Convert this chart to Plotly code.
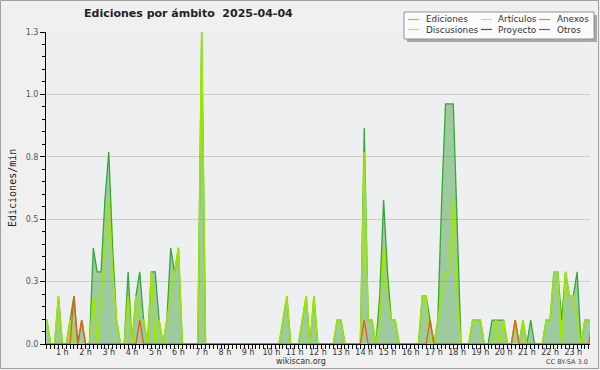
import plotly.graph_objects as go

# 10-minute bins over the day (hours)
bin_hours = [k / 6 for k in range(144)]

# Edit rates (edits/min), one value per 10-minute bin
ediciones = [
    0.096, 0.096, 0.096, 0.0, 0.0, 0.192,
    0.0, 0.0, 0.096, 0.192, 0.0, 0.096,
    0.0, 0.0, 0.385, 0.289, 0.289, 0.577,
    0.769, 0.385, 0.096, 0.0, 0.0, 0.289,
    0.0, 0.192, 0.289, 0.096, 0.0, 0.289,
    0.289, 0.096, 0.0, 0.096, 0.385, 0.289,
    0.385, 0.0, 0.0, 0.0, 0.0, 0.0,
    1.25, 0.0, 0.0, 0.0, 0.0, 0.0,
    0.0, 0.0, 0.0, 0.0, 0.0, 0.0,
    0.0, 0.0, 0.0, 0.0, 0.0, 0.0,
    0.0, 0.0, 0.0, 0.096, 0.192, 0.0,
    0.0, 0.0, 0.096, 0.192, 0.0, 0.192,
    0.0, 0.0, 0.0, 0.0, 0.0, 0.096,
    0.096, 0.0, 0.0, 0.0, 0.0, 0.0,
    0.865, 0.096, 0.096, 0.0, 0.192, 0.577,
    0.289, 0.096, 0.096, 0.0, 0.0, 0.0,
    0.0, 0.0, 0.0, 0.192, 0.192, 0.096,
    0.0, 0.096, 0.577, 0.962, 0.962, 0.962,
    0.481, 0.0, 0.0, 0.0, 0.096, 0.096,
    0.096, 0.0, 0.0, 0.096, 0.096, 0.096,
    0.096, 0.0, 0.0, 0.096, 0.0, 0.096,
    0.0, 0.096, 0.0, 0.0, 0.0, 0.096,
    0.096, 0.289, 0.289, 0.096, 0.289, 0.192,
    0.192, 0.289, 0.0, 0.096, 0.096, 0.096,
]

articulos = [
    0.096, 0.096, 0.096, 0.0, 0.0, 0.192,
    0.0, 0.0, 0.096, 0.0, 0.0, 0.0,
    0.0, 0.0, 0.192, 0.0, 0.192, 0.385,
    0.577, 0.289, 0.096, 0.0, 0.0, 0.192,
    0.0, 0.192, 0.096, 0.096, 0.0, 0.289,
    0.0, 0.096, 0.0, 0.096, 0.192, 0.289,
    0.385, 0.0, 0.0, 0.0, 0.0, 0.0,
    1.25, 0.0, 0.0, 0.0, 0.0, 0.0,
    0.0, 0.0, 0.0, 0.0, 0.0, 0.0,
    0.0, 0.0, 0.0, 0.0, 0.0, 0.0,
    0.0, 0.0, 0.0, 0.096, 0.192, 0.0,
    0.0, 0.0, 0.096, 0.192, 0.0, 0.192,
    0.0, 0.0, 0.0, 0.0, 0.0, 0.096,
    0.096, 0.0, 0.0, 0.0, 0.0, 0.0,
    0.769, 0.096, 0.096, 0.0, 0.096, 0.385,
    0.192, 0.096, 0.096, 0.0, 0.0, 0.0,
    0.0, 0.0, 0.0, 0.192, 0.192, 0.0,
    0.0, 0.096, 0.192, 0.289, 0.289, 0.577,
    0.192, 0.0, 0.0, 0.0, 0.096, 0.096,
    0.096, 0.0, 0.0, 0.0, 0.096, 0.0,
    0.096, 0.0, 0.0, 0.096, 0.0, 0.096,
    0.0, 0.0, 0.0, 0.0, 0.0, 0.096,
    0.096, 0.289, 0.289, 0.0, 0.289, 0.192,
    0.192, 0.096, 0.0, 0.096, 0.096, 0.096,
]

anexos = [
    0.0, 0.0, 0.0, 0.0, 0.0, 0.0,
    0.0, 0.0, 0.0, 0.192, 0.0, 0.096,
    0.0, 0.0, 0.0, 0.0, 0.0, 0.0,
    0.0, 0.0, 0.0, 0.0, 0.0, 0.0,
    0.0, 0.0, 0.096, 0.0, 0.0, 0.0,
] + [0.0] * 54 + [
    0.096, 0.0, 0.0, 0.0, 0.0, 0.0,
    0.0, 0.0, 0.0, 0.0, 0.0, 0.0,
    0.0, 0.0, 0.0, 0.0, 0.0, 0.096,
    0.0, 0.0, 0.0, 0.0, 0.0, 0.0,
    0.0, 0.0, 0.0, 0.0, 0.0, 0.0,
    0.0, 0.0, 0.0, 0.0, 0.0, 0.0,
    0.0, 0.0, 0.0, 0.096, 0.0, 0.0,
    0.0, 0.0, 0.0, 0.0, 0.0, 0.0,
    0.0, 0.0, 0.0, 0.0, 0.0, 0.0,
    0.0, 0.0, 0.0, 0.0, 0.0, 0.096,
]

legend_names = ["Ediciones", "Artículos", "Anexos", "Discusiones", "Proyecto", "Otros"]
legend_colors = ["#7ccf7c", "#c8ec50", "#f08050", "#f0d040", "#505050", "#8040f0"]

y_tickvals = [0, 0.25, 0.5, 0.75, 1.0, 1.25]
y_ticktext = ["0.0", "0.3", "0.5", "0.8", "1.0", "1.3"]
x_tickvals = list(range(1, 24))
x_ticktext = [f"{h} h" for h in x_tickvals]

title_text = "Ediciones por ámbito  2025-04-04"

W, H = 600, 370
L, R, T, B = 46, 10, 32, 26
PW, PH = W - L - R, H - T - B


def px(xp):
    return (xp - L) / PW


def py(yp):
    return (H - B - yp) / PH


fig = go.Figure()
fig.add_trace(go.Scatter(
    x=bin_hours, y=ediciones, mode="lines", name=legend_names[0],
    line=dict(color="#36a836", width=1.3),
    fill="tozeroy", fillcolor="rgba(60,160,60,0.46)", showlegend=False,
))
fig.add_trace(go.Scatter(
    x=bin_hours, y=articulos, mode="lines", name=legend_names[1],
    line=dict(color="#9fe600", width=1.6), showlegend=False,
))
fig.add_trace(go.Scatter(
    x=bin_hours, y=anexos, mode="lines", name=legend_names[2],
    line=dict(color="#ee5a10", width=1.3), showlegend=False,
))

shapes = []
annotations = []

# image border
shapes.append(dict(type="rect", xref="paper", yref="paper",
                   x0=px(0.5), x1=px(598.5), y0=py(368.5), y1=py(0.5),
                   line=dict(color="#a0a0a0", width=1), layer="below"))

# legend box with shadow
shapes.append(dict(type="rect", xref="paper", yref="paper",
                   x0=px(407), x1=px(597), y0=py(42), y1=py(15),
                   fillcolor="#a8a8a8", line=dict(width=0)))
shapes.append(dict(type="rect", xref="paper", yref="paper",
                   x0=px(404), x1=px(594), y0=py(39), y1=py(12),
                   fillcolor="#fbfbfb", line=dict(color="#909090", width=1)))

col_line_x = [408, 481, 539]
col_text_x = [424, 496, 555]
row_y = [19.5, 29.5]
for i, (name, col) in enumerate(zip(legend_names, legend_colors)):
    r, c = divmod(i, 3)
    lx0 = col_line_x[c]
    shapes.append(dict(type="line", xref="paper", yref="paper",
                       x0=px(lx0), x1=px(lx0 + 11), y0=py(row_y[r]), y1=py(row_y[r]),
                       line=dict(color=col, width=1.2)))
    annotations.append(dict(text=name, xref="paper", yref="paper",
                            x=px(col_text_x[c]), y=py(row_y[r]),
                            xanchor="left", yanchor="middle", showarrow=False,
                            font=dict(family="DejaVu Sans", size=8.8, color="#333333")))

annotations.append(dict(text=f"<b>{title_text}</b>", xref="paper", yref="paper",
                        x=px(188), y=py(13), xanchor="center", yanchor="middle",
                        showarrow=False,
                        font=dict(family="DejaVu Sans", size=11, color="#222222")))
annotations.append(dict(text="Ediciones/min", xref="paper", yref="paper",
                        x=px(12), y=py(188), xanchor="center", yanchor="middle",
                        textangle=-90, showarrow=False,
                        font=dict(family="DejaVu Sans Mono", size=10, color="#222222")))
annotations.append(dict(text="wikiscan.org", xref="paper", yref="paper",
                        x=px(301), y=py(361.5), xanchor="center", yanchor="middle",
                        showarrow=False,
                        font=dict(family="DejaVu Sans", size=8, color="#333333")))
annotations.append(dict(text="CC BY-SA 3.0", xref="paper", yref="paper",
                        x=px(590), y=py(362), xanchor="right", yanchor="middle",
                        showarrow=False,
                        font=dict(family="DejaVu Sans", size=6.5, color="#444444")))

fig.update_layout(
    width=W, height=H,
    margin=dict(l=L, r=R, t=T, b=B, pad=0),
    paper_bgcolor="#f0f0f0", plot_bgcolor="#eeeff1",
    shapes=shapes, annotations=annotations, showlegend=False,
    font=dict(family="DejaVu Sans", size=8, color="#444444"),
)
fig.update_xaxes(
    range=[0.297, 23.72], tickvals=x_tickvals, ticktext=x_ticktext,
    showgrid=False, zeroline=False, showline=True, linecolor="#000000", linewidth=1,
    ticks="outside", ticklen=4, tickcolor="#000000", tickwidth=1,
    ticklabelstandoff=-4,
    tickfont=dict(family="DejaVu Sans", size=8, color="#333333"),
    minor=dict(dtick=1 / 6, tick0=0, ticks="outside", ticklen=4, tickcolor="#000000"),
)
fig.update_yaxes(
    range=[0, 1.25], tickvals=y_tickvals, ticktext=y_ticktext,
    showgrid=True, gridcolor="#cccccc", gridwidth=1, zeroline=False,
    showline=True, linecolor="#000000", linewidth=1,
    ticks="outside", ticklen=5, tickcolor="#000000",
    tickfont=dict(family="DejaVu Sans", size=8, color="#555555"),
    minor=dict(dtick=0.05, ticks="outside", ticklen=3, tickcolor="#000000", showgrid=False),
)

fig.write_html("out.html",
               config={"displayModeBar": False},
               post_script="document.body.style.margin='0';document.body.style.padding='0';"
                           "document.body.style.overflow='hidden';")
